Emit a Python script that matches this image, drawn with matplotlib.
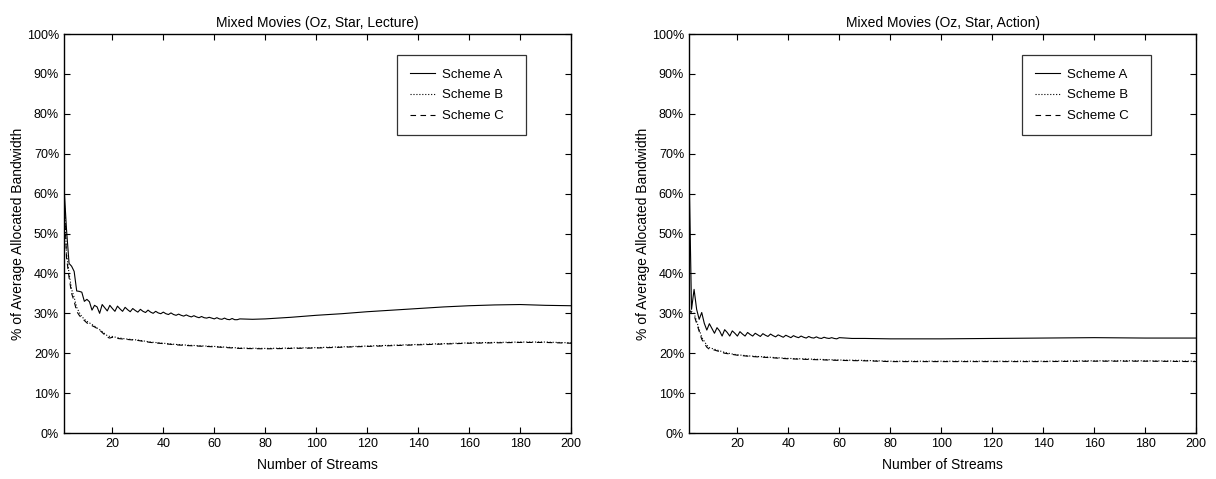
import numpy as np
import matplotlib.pyplot as plt
from matplotlib.ticker import FuncFormatter

plt.rcParams['font.family'] = ['Liberation Sans', 'DejaVu Sans']

# ---- left panel: Oz, Star, Lecture ----
left_title = 'Mixed Movies (Oz, Star, Lecture)'
left_a_n = list(range(1, 71)) + [75, 80, 85, 90, 100, 110, 120, 130, 140, 150, 160, 170, 180, 190, 200]
left_a = [62.0, 51.0, 42.5, 41.8, 40.5, 35.6, 35.5, 35.3, 33.0, 33.5,
          32.9, 30.8, 32.0, 31.6, 30.0, 32.2, 31.4, 30.6, 32.0, 31.2,
          30.5, 31.8, 31.1, 30.5, 31.5, 30.9, 30.4, 31.2, 30.7, 30.3,
          31.0, 30.5, 30.2, 30.8, 30.3, 30.0, 30.5, 30.1, 29.9, 30.3,
          29.9, 29.7, 30.1, 29.7, 29.5, 29.8, 29.5, 29.3, 29.6, 29.3,
          29.1, 29.4, 29.1, 28.9, 29.2, 28.9, 28.8, 29.0, 28.8, 28.6,
          28.9, 28.6, 28.5, 28.8, 28.5, 28.4, 28.7, 28.4, 28.4, 28.6,
          28.5, 28.6, 28.8, 29.0, 29.5, 29.9, 30.4, 30.8, 31.2, 31.6,
          31.9, 32.1, 32.2, 32.0, 31.9]
left_bc_n = [1, 2, 3, 4, 5, 6, 7, 8, 9, 10, 11, 12, 13, 14, 15, 16, 17, 18, 19, 20,
             22, 25, 30, 35, 40, 45, 50, 60, 70, 80, 90, 100, 110, 120, 130, 140,
             150, 160, 170, 180, 190, 200]
left_b = [60.0, 45.0, 40.0, 36.0, 34.0, 31.5, 30.2, 29.2, 28.5, 28.0,
          27.6, 27.2, 26.8, 26.3, 25.9, 25.4, 24.9, 24.4, 24.2, 24.2,
          23.9, 23.6, 23.3, 22.8, 22.5, 22.2, 22.0, 21.7, 21.3, 21.2,
          21.3, 21.4, 21.6, 21.8, 22.0, 22.2, 22.4, 22.6, 22.7, 22.8,
          22.8, 22.6]
left_c = [60.0, 44.0, 39.0, 35.0, 33.0, 30.5, 29.5, 28.7, 28.2, 27.6,
          27.2, 26.9, 26.6, 26.2, 25.8, 25.2, 24.6, 24.0, 23.8, 24.0,
          23.7, 23.5, 23.2, 22.7, 22.4, 22.1, 21.9, 21.6, 21.2, 21.1,
          21.2, 21.3, 21.5, 21.7, 21.9, 22.1, 22.3, 22.5, 22.6, 22.7,
          22.7, 22.5]

# ---- right panel: Oz, Star, Action ----
right_title = 'Mixed Movies (Oz, Star, Action)'
right_a_n = list(range(1, 61)) + [65, 70, 80, 90, 100, 120, 140, 160, 180, 200]
right_a = [67.0, 31.0, 36.0, 31.0, 28.5, 30.2, 27.5, 25.8, 27.4, 26.2,
           25.0, 26.4, 25.6, 24.3, 25.9, 25.2, 24.3, 25.6, 25.0, 24.3,
           25.4, 24.8, 24.3, 25.2, 24.7, 24.3, 25.0, 24.6, 24.2, 24.9,
           24.5, 24.2, 24.8, 24.4, 24.1, 24.6, 24.3, 24.0, 24.5, 24.2,
           23.9, 24.4, 24.1, 23.9, 24.3, 24.0, 23.8, 24.2, 23.9, 23.8,
           24.1, 23.8, 23.7, 24.0, 23.8, 23.7, 23.9, 23.7, 23.6, 23.9,
           23.7, 23.7, 23.6, 23.6, 23.6, 23.7, 23.8, 23.9, 23.8, 23.8]
right_bc_n = [1, 2, 3, 4, 5, 6, 7, 8, 9, 10, 11, 12, 13, 15, 18, 20, 25, 30,
              40, 50, 60, 70, 80, 90, 100, 120, 140, 160, 180, 200]
right_b = [31.0, 30.5, 30.0, 28.0, 26.0, 24.0, 23.0, 22.0, 21.4, 21.2,
           21.0, 20.8, 20.6, 20.2, 19.8, 19.6, 19.3, 19.1, 18.7, 18.5,
           18.3, 18.2, 18.0, 18.0, 18.0, 18.0, 18.0, 18.1, 18.1, 18.0]
right_c = [31.0, 30.0, 29.5, 27.5, 25.5, 23.5, 22.5, 21.5, 21.0, 20.9,
           20.8, 20.6, 20.4, 20.0, 19.7, 19.5, 19.2, 19.0, 18.6, 18.4,
           18.2, 18.1, 17.9, 17.9, 17.9, 17.9, 17.9, 18.0, 18.0, 17.9]

panels = [
    (left_title, left_a_n, left_a, left_bc_n, left_b, left_c),
    (right_title, right_a_n, right_a, right_bc_n, right_b, right_c),
]

fig = plt.figure(figsize=(12.16, 4.79), dpi=100)
ax_pos = [[0.0526, 0.096, 0.417, 0.833], [0.5666, 0.096, 0.417, 0.833]]

for pos, (title, an, a, bcn, b, c) in zip(ax_pos, panels):
    ax = fig.add_axes(pos)
    ax.plot(an, a, color='black', lw=0.8, ls='-', label='Scheme A')
    ax.plot(bcn, b, color='black', lw=0.8, ls=':', label='Scheme B')
    ax.plot(bcn, c, color='black', lw=0.8, ls=(0, (5, 4)), label='Scheme C')

    ax.set_xlim(1, 200)
    ax.set_ylim(0, 100)
    ax.set_xticks(np.arange(20, 201, 20))
    ax.set_yticks(np.arange(0, 101, 10))
    ax.yaxis.set_major_formatter(FuncFormatter(lambda v, p: '%d%%' % v))
    ax.tick_params(direction='in', top=True, right=True, length=4, width=0.8, labelsize=9)
    for s in ax.spines.values():
        s.set_linewidth(1.0)

    ax.set_title(title, fontsize=10, pad=5)
    ax.set_xlabel('Number of Streams', fontsize=10, labelpad=6)
    ax.set_ylabel('% of Average Allocated Bandwidth', fontsize=10, labelpad=1)

    # MATLAB-like legend box: fixed width, entries left aligned
    leg = ax.legend(loc='upper left', bbox_to_anchor=(0.657, 0.737, 0.254, 0.21),
                    mode='expand', borderaxespad=0, fontsize=9.5,
                    frameon=True, fancybox=False, edgecolor='black',
                    handlelength=1.9, handletextpad=0.5, borderpad=1.0,
                    labelspacing=0.65)
    leg.get_frame().set_linewidth(0.9)

fig.savefig('out.png', dpi=100)
